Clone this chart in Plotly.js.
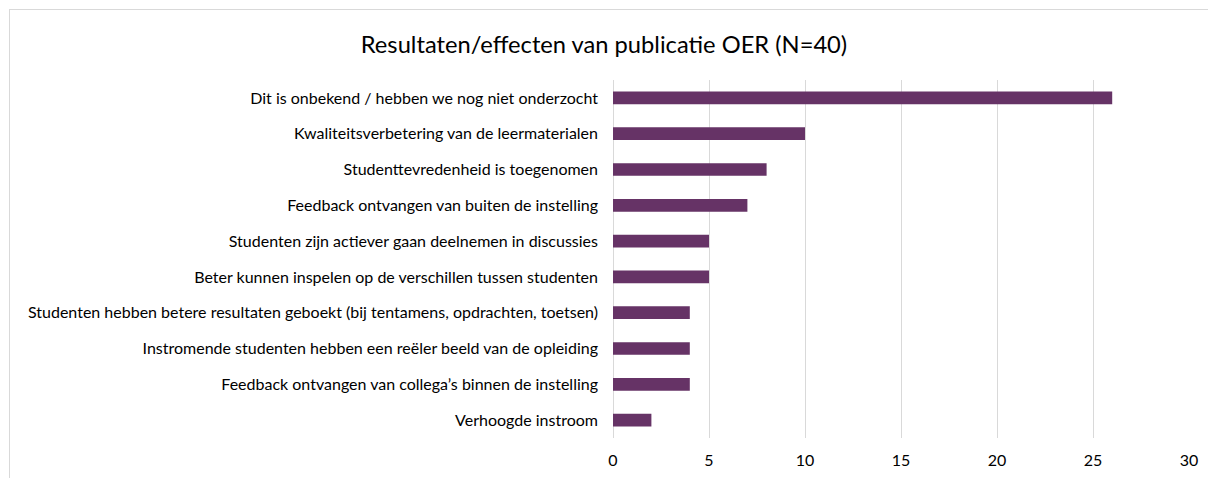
<!DOCTYPE html>
<html>
<head>
<meta charset="utf-8">
<script src="https://cdn.plot.ly/plotly-3.0.1.min.js"></script>
<style>
  html, body { margin: 0; padding: 0; background: #ffffff; }
  #wrap { position: relative; width: 1208px; height: 478px; overflow: hidden; }
  #frame { position: absolute; left: 9px; top: 9px; width: 1400px; height: 700px; border: 1px solid #d9d9d9; box-sizing: border-box; }
  #chart { position: absolute; left: 0; top: 0; width: 1208px; height: 478px; }
</style>
</head>
<body>
<div id="wrap">
  <div id="frame"></div>
  <div id="chart"></div>
</div>
<script>
const categories = [
  "Dit is onbekend / hebben we nog niet onderzocht",
  "Kwaliteitsverbetering van de leermaterialen",
  "Studenttevredenheid is toegenomen",
  "Feedback ontvangen van buiten de instelling",
  "Studenten zijn actiever gaan deelnemen in discussies",
  "Beter kunnen inspelen op de verschillen tussen studenten",
  "Studenten hebben betere resultaten geboekt (bij tentamens, opdrachten, toetsen)",
  "Instromende studenten hebben een reëler beeld van de opleiding",
  "Feedback ontvangen van collega’s binnen de instelling",
  "Verhoogde instroom"
];
const values = [26, 10, 8, 7, 5, 5, 4, 4, 4, 2];
const xTicks = [0, 5, 10, 15, 20, 25, 30];
const chartTitle = "Resultaten/effecten van publicatie OER (N=40)";

const FONT = "Lato, Open Sans, sans-serif";

const trace = {
  type: "bar",
  orientation: "h",
  x: values,
  y: categories,
  marker: { color: "#663366" },
  hoverinfo: "x+y"
};

const layout = {
  width: 1208,
  height: 478,
  paper_bgcolor: "rgba(0,0,0,0)",
  plot_bgcolor: "rgba(0,0,0,0)",
  margin: { l: 613, r: 19, t: 80, b: 40, pad: 0 },
  bargap: 0.645,
  showlegend: false,
  font: { family: FONT, color: "#000000", size: 16 },
  title: {
    text: chartTitle,
    font: { family: FONT, size: 23.7, color: "#000000" },
    x: 0.5, xanchor: "center",
    y: 1 - 45 / 478, yanchor: "middle"
  },
  xaxis: {
    range: [0, 30],
    tickvals: xTicks,
    ticktext: xTicks.map(String),
    showgrid: true,
    gridcolor: "#d9d9d9",
    gridwidth: 1,
    zeroline: true,
    zerolinecolor: "#d9d9d9",
    zerolinewidth: 1,
    showline: false,
    ticks: "",
    ticklabelstandoff: 11,
    tickfont: { size: 16, color: "#000000" },
    fixedrange: true
  },
  yaxis: {
    autorange: "reversed",
    type: "category",
    showgrid: false,
    zeroline: false,
    showline: false,
    ticks: "",
    ticklabelstandoff: 14,
    tickfont: { size: 16, color: "#000000" },
    fixedrange: true
  }
};

Plotly.newPlot("chart", [trace], layout, { displayModeBar: false, staticPlot: true });
</script>
</body>
</html>
